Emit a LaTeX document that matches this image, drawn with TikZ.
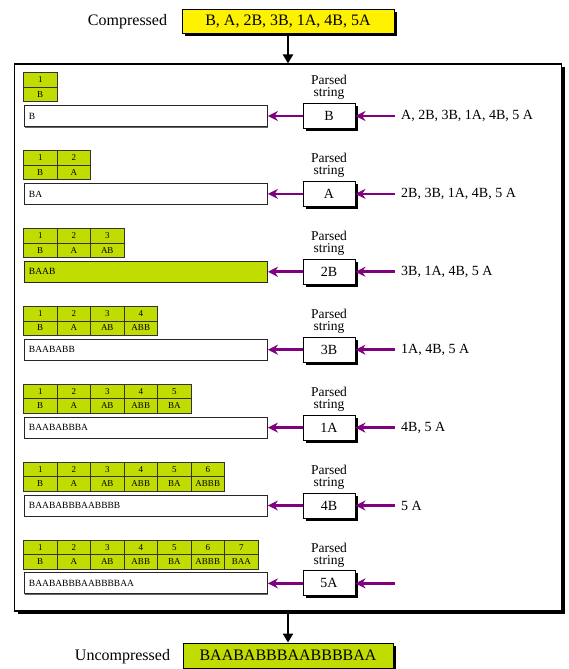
\documentclass[tikz,border=0pt]{standalone}
\usepackage{fontspec}
\setmainfont{Liberation Serif}
\usetikzlibrary{positioning,shadows,arrows.meta}
\definecolor{dictgreen}{RGB}{192,220,0}
\definecolor{linkpurple}{RGB}{128,0,128}

\begin{document}
\begin{tikzpicture}[x=1pt,y=-1pt,
    dictcell/.style={draw=black!80, fill=dictgreen, minimum width=33.5pt, minimum height=14.5pt, inner sep=0pt, font=\fontsize{9}{9}\selectfont},
    strbox/.style={draw=black!85, line width=0.9pt, minimum height=21pt, text width=233.5pt, inner xsep=5pt, inner ysep=0pt, align=left, font=\fontsize{9.5}{9.5}\selectfont, drop shadow={shadow xshift=1pt, shadow yshift=-1pt, fill=black!60, opacity=1}},
    codebox/.style={draw, line width=0.9pt, fill=white, minimum width=52pt, minimum height=25pt, inner sep=0pt, font=\fontsize{14}{14}\selectfont, drop shadow={shadow xshift=2.5pt, shadow yshift=-2.5pt, fill=black, opacity=1}},
    bigbox/.style={draw, line width=0.9pt, minimum height=24pt, inner sep=0pt, font=\fontsize{16}{16}\selectfont, drop shadow={shadow xshift=3pt, shadow yshift=-3pt, fill=black, opacity=1}},
    parsearrow/.style={draw=linkpurple, line width=2.8pt, -{Stealth[length=10pt,width=10pt]}},
    flowarrow/.style={line width=2.8pt, -{Triangle[length=9pt,width=10pt]}}
]
\useasboundingbox (0,0) rectangle (568,669);

\node[font=\fontsize{16}{16}\selectfont] (comptext) at (127.5,21.5) {Compressed};
\node[bigbox, fill=yellow, minimum width=212pt] (comp) at (288,21.5) {B, A, 2B, 3B, 1A, 4B, 5A};
\node[draw, line width=1.2pt, fill=white, minimum width=547pt, minimum height=547pt, inner sep=0pt,
  drop shadow={shadow xshift=3pt, shadow yshift=-3pt, fill=black, opacity=1}] (frame) at (288,337.5) {};

\foreach \code/\str/\rest/\shade [count=\k from 0] in {
    B/B/{A, 2B, 3B, 1A, 4B, 5 A}/white,
    A/BA/{2B, 3B, 1A, 4B, 5 A}/white,
    2B/BAAB/{3B, 1A, 4B, 5 A}/dictgreen,
    3B/BAABABB/{1A, 4B, 5 A}/white,
    1A/BAABABBBA/{4B, 5 A}/white,
    4B/BAABABBBAABBBB/{5 A}/white,
    5A/BAABABBBAABBBBAA/{}/white}
{
  \pgfmathsetmacro\rowy{116+77.9*\k}
  \node[strbox, fill=\shade, anchor=west] (str\k) at (23.5,\rowy) {\str};
  \node[codebox] (code\k) at (329,\rowy) {\code};
  \node[above=3pt of code\k, align=center, inner sep=0pt, font=\fontsize{13.5}{12}\selectfont] (lbl\k) {Parsed\\string};
  \coordinate (src\k) at (395,\rowy);
  \node[anchor=west, inner sep=0pt, font=\fontsize{14}{14}\selectfont] (rest\k) at (401,\rowy) {\rest};
  \draw[parsearrow] (code\k) -- (str\k);
  \draw[parsearrow] (src\k) -- (code\k);
  \foreach \entry [count=\j] in {B,A,AB,ABB,BA,ABBB,BAA}
  {
    \ifnum\j<\numexpr\k+2\relax
      \node[dictcell] (num\k-\j) at ({23.5+33.5*(\j-0.5)},{\rowy-36.2}) {\j};
      \node[dictcell] (ent\k-\j) at ({23.5+33.5*(\j-0.5)},{\rowy-21.7}) {\entry};
    \fi
  }
}

\node[font=\fontsize{16}{16}\selectfont] (uncomptext) at (122.5,657) {Uncompressed};
\node[bigbox, fill=dictgreen, minimum width=210pt, minimum height=25pt] (uncomp) at (288,655.5) {BAABABBBAABBBBAA};

\draw[flowarrow] (comp) -- (frame.north);
\draw[flowarrow] (frame.south) -- (uncomp.north);

\end{tikzpicture}
\end{document}
